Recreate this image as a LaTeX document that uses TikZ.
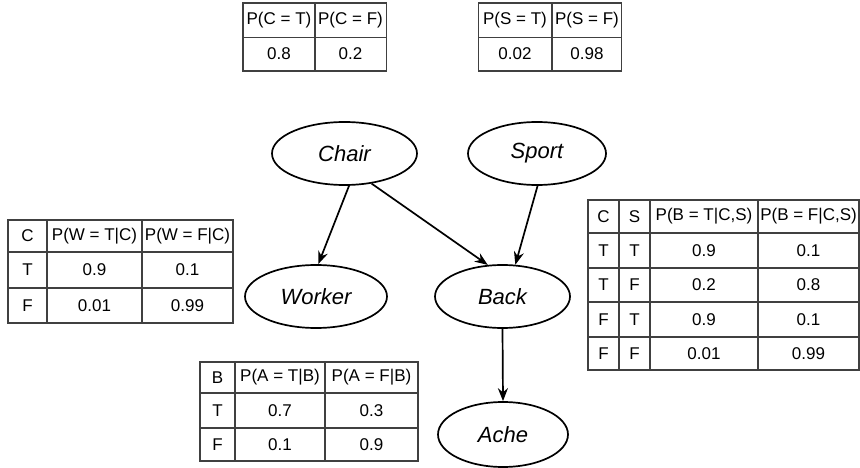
\documentclass[tikz,border=0pt]{standalone}
\usepackage{fontspec}
\setmainfont{Liberation Sans}
\usetikzlibrary{shapes.geometric,arrows.meta}

\tikzset{
  var/.style={ellipse, draw=black, line width=1.7pt, inner sep=0pt,
    font=\fontsize{22}{26}\selectfont\itshape},
  edge/.style={line width=1.7pt, -{Stealth[length=13pt,width=10pt]}},
  grid/.style={draw=black!75, line width=1.5pt},
  cell/.style={inner sep=0pt, font=\fontsize{17}{20}\selectfont},
}

\begin{document}
\begin{tikzpicture}[x=1pt, y=-1pt]
\useasboundingbox (0,0) rectangle (860,468);

% network nodes
\node[var, minimum width=145pt, minimum height=63pt] (chair)  at (344.5,153.5) {Chair};
\node[var, minimum width=138pt, minimum height=63pt] (sport)  at (537,153.5) {Sport};
\node[var, minimum width=142pt, minimum height=63pt] (worker) at (316,296.5) {Worker};
\node[var, minimum width=135pt, minimum height=63pt] (back)   at (502.5,296.5) {Back};
\node[var, minimum width=130pt, minimum height=65pt] (ache)   at (503,434.5) {Ache};

% dependencies
\draw[edge] (chair.-82) -- (worker.86);
\draw[edge] (chair.-48) -- (back.115);
\draw[edge] (sport.-89) -- (back.68);
\draw[edge] (back.south) -- (ache.north);

% P(C)
\draw[grid] (243,3) rectangle (386.5,71);
\draw[grid] (315,3) -- (315,71);
\draw[grid] (243,37.5) -- (386.5,37.5);
\node[cell] (pc1) at (279,20) {P(C = T)};
\node[cell] (pc2) at (350.5,20) {P(C = F)};
\node[cell] (pc3) at (279,54) {0.8};
\node[cell] (pc4) at (350.5,54) {0.2};

% P(S)
\draw[grid] (478.5,3) rectangle (621.5,71);
\draw[grid] (552,3) -- (552,71);
\draw[grid] (478.5,37.5) -- (621.5,37.5);
\node[cell] (ps1) at (515,20) {P(S = T)};
\node[cell] (ps2) at (587,20) {P(S = F)};
\node[cell] (ps3) at (515,54) {0.02};
\node[cell] (ps4) at (587,54) {0.98};

% P(W | C)
\draw[grid] (8,220) rectangle (233,323);
\foreach \x in {47,142} \draw[grid] (\x,220) -- (\x,323);
\foreach \y in {252,288} \draw[grid] (8,\y) -- (233,\y);
\foreach \x/\y/\t [count=\i] in {27.5/236/C, 94.5/236/{P(W = T|C)}, 187.5/236/{P(W = F|C)},
    27.5/270/T, 94.5/270/0.9, 187.5/270/0.1,
    27.5/305.5/F, 94.5/305.5/0.01, 187.5/305.5/0.99}
  \node[cell] (pw\i) at (\x,\y) {\t};

% P(B | C,S)
\draw[grid] (588,200) rectangle (859,370);
\foreach \x in {619,650,758} \draw[grid] (\x,200) -- (\x,370);
\foreach \y in {233,268,302,337} \draw[grid] (588,\y) -- (859,\y);
\foreach \x/\y/\t [count=\i] in {603.5/216.5/C, 634.5/216.5/S, 704/216.5/{P(B = T|C,S)}, 808.5/216.5/{P(B = F|C,S)},
    603.5/250.5/T, 634.5/250.5/T, 704/250.5/0.9, 808.5/250.5/0.1,
    603.5/285/T, 634.5/285/F, 704/285/0.2, 808.5/285/0.8,
    603.5/319.5/F, 634.5/319.5/T, 704/319.5/0.9, 808.5/319.5/0.1,
    603.5/353.5/F, 634.5/353.5/F, 704/353.5/0.01, 808.5/353.5/0.99}
  \node[cell] (pb\i) at (\x,\y) {\t};

% P(A | B)
\draw[grid] (200,362) rectangle (418,461);
\foreach \x in {235,325} \draw[grid] (\x,362) -- (\x,461);
\foreach \y in {393,428} \draw[grid] (200,\y) -- (418,\y);
\foreach \x/\y/\t [count=\i] in {217.5/377.5/B, 280/377.5/{P(A = T|B)}, 371.5/377.5/{P(A = F|B)},
    217.5/410.5/T, 280/410.5/0.7, 371.5/410.5/0.3,
    217.5/444.5/F, 280/444.5/0.1, 371.5/444.5/0.9}
  \node[cell] (pa\i) at (\x,\y) {\t};
\end{tikzpicture}
\end{document}
